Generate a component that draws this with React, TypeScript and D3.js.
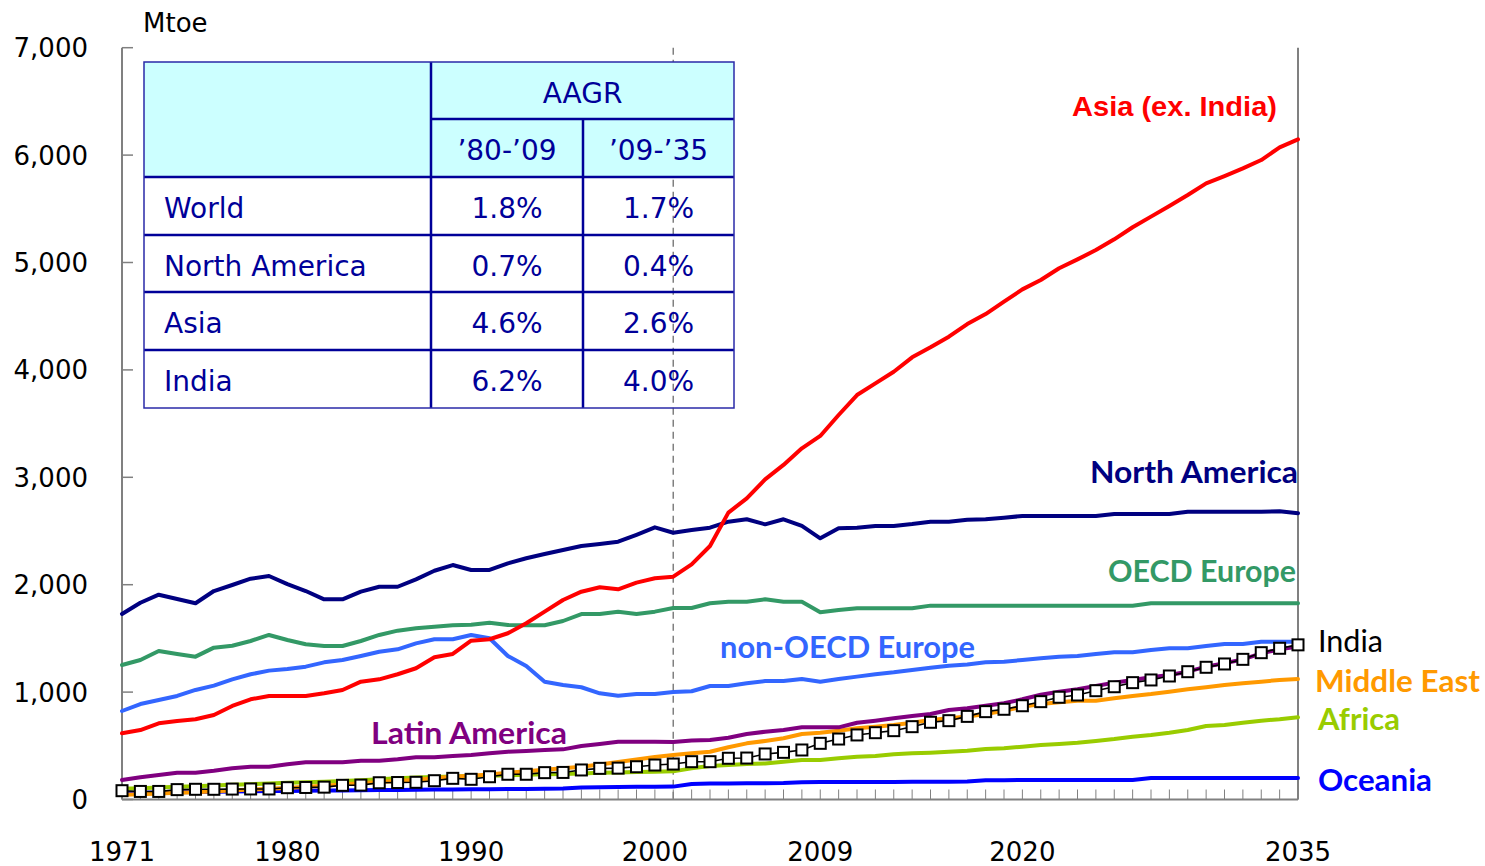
import React from "react";
import * as d3 from "d3";

const years: number[] = d3.range(1971, 2036);

const northAmerica = [1727,1832,1907,1867,1827,1941,1997,2056,2081,2006,1941,1864,1864,1935,1981,1981,2050,2130,2183,2137,2137,2199,2246,2286,2323,2360,2379,2400,2465,2534,2484,2509,2531,2587,2609,2562,2609,2547,2432,2525,2531,2547,2547,2565,2587,2587,2605,2610,2624,2640,2640,2640,2640,2640,2658,2658,2658,2658,2680,2680,2680,2680,2680,2684,2665];
const asiaExIndia = [616,647,709,731,747,787,871,933,964,964,964,989,1020,1097,1119,1166,1222,1324,1355,1479,1492,1548,1641,1749,1858,1935,1976,1957,2019,2060,2075,2190,2360,2671,2804,2981,3115,3270,3385,3580,3766,3875,3983,4117,4210,4309,4427,4520,4635,4750,4837,4946,5029,5116,5216,5328,5427,5526,5628,5737,5805,5877,5954,6072,6147];
const oecdEurope = [1252,1299,1383,1355,1330,1414,1432,1476,1532,1485,1445,1429,1429,1476,1532,1572,1594,1609,1622,1628,1646,1625,1622,1622,1662,1727,1727,1749,1727,1749,1783,1783,1827,1842,1842,1864,1842,1842,1743,1764,1780,1780,1780,1780,1805,1805,1805,1805,1805,1805,1805,1805,1805,1805,1805,1805,1827,1827,1827,1827,1827,1827,1827,1827,1827];
const nonOecdEurope = [824,889,926,964,1020,1060,1119,1166,1200,1215,1237,1277,1299,1336,1376,1398,1454,1492,1492,1532,1501,1336,1243,1097,1066,1045,989,967,982,982,1000,1008,1057,1057,1082,1103,1103,1122,1097,1122,1144,1166,1184,1206,1227,1246,1258,1278,1283,1299,1315,1330,1336,1355,1371,1371,1392,1408,1408,1429,1448,1448,1469,1469,1469];
const latinAmerica = [182,207,228,250,250,268,290,305,305,328,346,346,346,361,361,374,393,393,405,414,430,445,452,461,467,498,517,538,538,538,535,550,554,575,610,631,647,672,672,672,715,734,756,777,796,833,849,872,896,933,975,1004,1026,1057,1088,1113,1138,1159,1190,1237,1268,1305,1361,1398,1425];
const middleEast = [45,50,56,62,68,76,84,92,100,108,118,128,140,152,162,172,184,198,212,222,232,248,262,278,292,305,325,350,372,395,414,430,445,486,523,545,570,610,622,641,663,678,694,715,740,756,772,796,827,864,889,905,920,920,942,964,982,1004,1026,1045,1066,1082,1097,1113,1122];
const africa = [100,105,112,118,124,130,137,143,150,156,160,166,172,180,188,197,205,210,214,218,222,226,230,234,238,242,248,252,256,259,262,290,312,321,330,335,352,368,368,384,399,405,421,430,436,445,455,470,477,492,507,517,529,545,563,585,601,622,647,684,694,715,734,747,765];
const oceania = [62,64,66,68,70,72,74,76,78,80,82,83,84,86,88,89,90,92,94,95,96,97,98,100,103,112,115,117,118,119,120,145,148,150,152,152,153,160,162,163,163,164,164,165,165,166,167,180,180,181,181,181,182,182,182,182,200,200,200,200,200,201,201,201,201];
const india = [82,75,75,92,95,95,97,98,98,110,112,115,132,134,156,158,160,175,197,188,212,235,235,250,252,275,290,292,305,321,330,352,352,384,386,424,439,461,523,563,601,622,641,678,719,734,774,818,840,873,911,952,973,1013,1050,1088,1113,1150,1190,1231,1262,1305,1367,1408,1440];

const yTicks = [0, 1000, 2000, 3000, 4000, 5000, 6000, 7000];
const xLabels = [1971, 1980, 1990, 2000, 2009, 2020, 2035];
const dividerYear = 2001;

const tableRows = ["World", "North America", "Asia", "India"];
const aagr8009 = ["1.8%", "0.7%", "4.6%", "6.2%"];
const aagr0935 = ["1.7%", "0.4%", "2.6%", "4.0%"];

type Series = { name: string; values: number[]; color: string };
const seriesList: Series[] = [
  { name: "Oceania", values: oceania, color: "#0000ff" },
  { name: "Africa", values: africa, color: "#99cc00" },
  { name: "Middle East", values: middleEast, color: "#ff9900" },
  { name: "Latin America", values: latinAmerica, color: "#800080" },
  { name: "non-OECD Europe", values: nonOecdEurope, color: "#3366ff" },
  { name: "OECD Europe", values: oecdEurope, color: "#339966" },
  { name: "North America", values: northAmerica, color: "#000080" },
  { name: "Asia (ex. India)", values: asiaExIndia, color: "#ff0000" },
];

export default function App() {
  const W = 1485, H = 866;
  const left = 122, right = 1298, top = 47.7, bottom = 799.5;
  const x = d3.scaleLinear().domain([1971, 2035]).range([left, right]);
  const y = d3.scaleLinear().domain([0, 7000]).range([bottom, top]);
  const line = d3.line<number>().x((_, i) => x(years[i])).y((v) => y(v));

  const axisFont = "'DejaVu Sans', sans-serif";
  const labelFont = "Lato, 'Open Sans', sans-serif";
  const tColor = "#000099";

  const tx = [144, 431, 583, 734];
  const ty = [62, 119, 177, 235, 292, 350, 408];

  return (
    <div style={{ position: "fixed", left: 0, top: 0 }}>
      <svg width={W} height={H} style={{ display: "block", background: "#fff" }}>
        <line x1={x(dividerYear)} x2={x(dividerYear)} y1={top} y2={bottom} stroke="#808080" strokeWidth={1.5} strokeDasharray="7,5" />

        <g>
          <rect x={tx[0]} y={ty[0]} width={tx[3] - tx[0]} height={ty[2] - ty[0]} fill="#ccffff" />
          <line x1={tx[1]} x2={tx[3]} y1={ty[1]} y2={ty[1]} stroke={tColor} strokeWidth={2.5} />
          {ty.slice(2, 6).map((v) => (
            <line key={v} x1={tx[0]} x2={tx[3]} y1={v} y2={v} stroke={tColor} strokeWidth={2.5} />
          ))}
          <line x1={tx[1]} x2={tx[1]} y1={ty[0]} y2={ty[6]} stroke={tColor} strokeWidth={2.5} />
          <line x1={tx[2]} x2={tx[2]} y1={ty[1]} y2={ty[6]} stroke={tColor} strokeWidth={2.5} />
          <rect x={tx[0]} y={ty[0]} width={tx[3] - tx[0]} height={ty[6] - ty[0]} fill="none" stroke="#2a2aa8" strokeWidth={1.5} />
          <g fontFamily={axisFont} fontSize={28} fill={tColor}>
            <text x={(tx[1] + tx[3]) / 2} y={103} textAnchor="middle">AAGR</text>
            <text x={(tx[1] + tx[2]) / 2} y={160} textAnchor="middle">’80-’09</text>
            <text x={(tx[2] + tx[3]) / 2} y={160} textAnchor="middle">’09-’35</text>
            {tableRows.map((r, i) => (
              <g key={r}>
                <text x={164} y={ty[i + 2] + 41}>{r}</text>
                <text x={(tx[1] + tx[2]) / 2} y={ty[i + 2] + 41} textAnchor="middle">{aagr8009[i]}</text>
                <text x={(tx[2] + tx[3]) / 2} y={ty[i + 2] + 41} textAnchor="middle">{aagr0935[i]}</text>
              </g>
            ))}
          </g>
        </g>

        <g stroke="#808080">
          <line x1={left} x2={left} y1={top} y2={bottom} strokeWidth={2} />
          <line x1={right} x2={right} y1={top} y2={bottom} strokeWidth={2} />
          <line x1={left} x2={right} y1={bottom} y2={bottom} strokeWidth={2} />
          {yTicks.map((t) => (
            <line key={t} x1={left} x2={left + 11} y1={y(t)} y2={y(t)} strokeWidth={1.5} />
          ))}
          {years.map((yr) => (
            <line key={yr} x1={x(yr)} x2={x(yr)} y1={bottom} y2={bottom - 10} strokeWidth={1} />
          ))}
        </g>
        <g fontFamily={axisFont} fontSize={26} fill="#000">
          {yTicks.map((t) => (
            <text key={t} x={88} y={y(t) + 9.5} textAnchor="end">{d3.format(",")(t)}</text>
          ))}
          {xLabels.map((t) => (
            <text key={t} x={x(t)} y={861} textAnchor="middle">{t}</text>
          ))}
          <text x={143} y={32}>Mtoe</text>
        </g>

        <g fill="none" strokeLinejoin="round" strokeLinecap="round">
          {seriesList.map((s) => (
            <path key={s.name} d={line(s.values) || ""} stroke={s.color} strokeWidth={4} />
          ))}
          <path d={line(india) || ""} stroke="#000" strokeWidth={1.6} />
        </g>
        <g>
          {india.map((v, i) => (
            <rect key={i} x={x(years[i]) - 5.5} y={y(v) - 5.5} width={11} height={11} fill="#fff" stroke="#000" strokeWidth={2} />
          ))}
        </g>

        <text x={1072} y={116} fontFamily="'Liberation Sans', Arial, sans-serif" fontWeight="bold" fontSize={28.5} fill="#ff0000" textLength={205} lengthAdjust="spacingAndGlyphs">Asia (ex. India)</text>
        <g fontFamily={labelFont} fontWeight="bold" fontSize={31}>
          <text x={1090} y={483} fill="#000080" textLength={208} lengthAdjust="spacingAndGlyphs">North America</text>
          <text x={1108} y={582} fill="#339966" textLength={188} lengthAdjust="spacingAndGlyphs">OECD Europe</text>
          <text x={720} y={658} fill="#3366ff" textLength={255} lengthAdjust="spacingAndGlyphs">non-OECD Europe</text>
          <text x={371} y={744} fill="#800080" textLength={196} lengthAdjust="spacingAndGlyphs">Latin America</text>
          <text x={1315} y={692} fill="#ff9900" textLength={165} lengthAdjust="spacingAndGlyphs">Middle East</text>
          <text x={1318} y={730} fill="#99cc00" textLength={82} lengthAdjust="spacingAndGlyphs">Africa</text>
          <text x={1318} y={791} fill="#0000ff" textLength={114} lengthAdjust="spacingAndGlyphs">Oceania</text>
        </g>
        <text x={1318} y={652} fontFamily={labelFont} fontSize={30} fill="#000" textLength={65} lengthAdjust="spacingAndGlyphs">India</text>
      </svg>
    </div>
  );
}
